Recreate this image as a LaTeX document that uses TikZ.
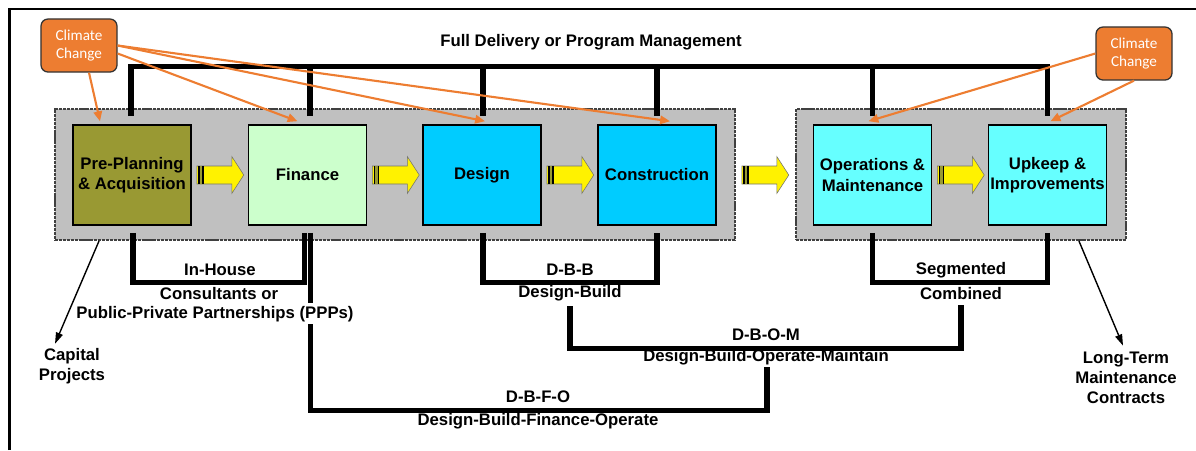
\documentclass[tikz,border=0pt]{standalone}
\usepackage{fontspec}
\setmainfont{Liberation Sans}
\newfontfamily\calibrifont{Carlito}
\usetikzlibrary{arrows.meta,calc}

\definecolor{olivebox}{RGB}{153,153,51}
\definecolor{mintbox}{RGB}{204,255,204}
\definecolor{bluebox}{RGB}{0,204,255}
\definecolor{cyanbox}{RGB}{102,255,255}
\definecolor{panelgray}{RGB}{192,192,192}
\definecolor{climate}{RGB}{237,125,49}

\tikzset{
  stage/.style={draw=black, line width=1.1pt, minimum width=2.95cm, minimum height=2.5cm,
    align=center, inner sep=1pt, font=\fontsize{11.9}{14.4}\selectfont\bfseries},
  panel/.style={fill=panelgray, draw=black!75, line width=1.2pt, dash pattern=on 2.2pt off 0.6pt},
  climatebox/.style={fill=climate, draw=black!80, line width=0.9pt, rounded corners=5pt,
    minimum width=1.9cm, minimum height=1.325cm, text=white, align=center,
    font=\calibrifont\fontsize{10.8}{12.8}\selectfont},
  lbl/.style={font=\fontsize{11.9}{14.4}\selectfont\bfseries, align=center, inner sep=0pt},
  bus/.style={line width=3.6pt},
  impact/.style={climate, line width=1.5pt, -{Triangle[length=7pt,width=6pt]}},
  outcome/.style={line width=1pt, -{Triangle[length=8pt,width=5pt]}},
  pics/blockarrow/.style={code={
    \filldraw[fill=yellow, draw=black!55, line width=0.4pt]
      (0,-9) -- (35,-9) -- (35,-18.5) -- (47,0) -- (35,18.5) -- (35,9) -- (0,9) -- cycle;
    \fill[olivebox] (1.5,-9) rectangle (6.8,9);
    \fill[black] (1.5,-9) rectangle (2.8,9);
    \fill[black] (5.5,-9) rectangle (6.8,9);
  }}
}

\begin{document}
\begin{tikzpicture}[x=0.025cm, y=-0.025cm]
\useasboundingbox (0,0) rectangle (1196,450);
\draw[line width=1.8pt] (9.5,450) -- (9.5,9) -- (1196,9);

% the two phases
\node[panel, minimum width=17cm, minimum height=3.275cm] (panelL) at (395,174.5) {};
\node[panel, minimum width=8.25cm, minimum height=3.275cm] (panelR) at (961,174.5) {};

\node[stage, fill=olivebox] (pre) at (132,175) {Pre-Planning\\\& Acquisition};
\node[stage, fill=mintbox] (fin) at (307.5,175) {Finance};
\node[stage, fill=bluebox] (des) at (482,175) {Design};
\node[stage, fill=bluebox] (con) at (657,175) {Construction};
\node[stage, fill=cyanbox] (ops) at (872.5,175) {Operations \&\\Maintenance};
\node[stage, fill=cyanbox] (upk) at (1047.5,175) {Upkeep \&\\Improvements};

\pic at ($(pre.east)+(5,0)$) {blockarrow};
\pic at ($(fin.east)+(5,0)$) {blockarrow};
\pic at ($(des.east)+(5,0)$) {blockarrow};
\pic at ($(con.east)+(25,0)$) {blockarrow};
\pic at ($(ops.east)+(5,0)$) {blockarrow};

% full delivery
\node[lbl] (title) at (591,42) {Full Delivery or Program Management};
\draw[bus] ($(pre.north)+(-1,-8)$) -- ++(0,-50) -| ($(upk.north)+(0,-8)$);
\draw[bus] ($(fin.north)+(2.5,-8)$) -- ++(0,-50);
\draw[bus] ($(des.north)+(1,-8)$) -- ++(0,-50);
\draw[bus] ($(con.north)+(0,-8)$) -- ++(0,-50);
\draw[bus] ($(ops.north)+(0,-8)$) -- ++(0,-50);

% delivery methods
\node[lbl] (inhouse) at (220,270) {In-House};
\node[lbl] (consult) at (219,294) {Consultants or};
\node[lbl] (ppp) at (215,314) {Public-Private Partnerships (PPPs)};
\node[lbl] (dbb) at (570,270) {D-B-B};
\node[lbl] (db) at (570,293) {Design-Build};
\node[lbl] (segm) at (961,270) {Segmented};
\node[lbl] (comb) at (961,294) {Combined};
\node[lbl] (dbom) at (766,335) {D-B-O-M};
\node[lbl] (dbomfull) at (766,357) {Design-Build-Operate-Maintain};
\node[lbl] (dbfo) at (538,397) {D-B-F-O};
\node[lbl] (dbfofull) at (538,421) {Design-Build-Finance-Operate};

\draw[bus] ($(pre.south)+(1,7)$) -- ++(0,50) -| ($(fin.south)+(-3,7)$);
\draw[bus] ($(des.south)+(1,7)$) -- ++(0,50) -| ($(con.south)+(0,7)$);
\draw[bus] ($(ops.south)+(0,7)$) -- ++(0,50) -| ($(upk.south)+(0,7)$);
\draw[bus] ($(db.south)+(0,5)$) -- ++(0,42) -| ($(comb.south)+(0,5)$);
\draw[bus] ($(fin.south)+(3,7)$) -- ($(ppp.north -| fin.south)+(3,-3)$);
\draw[bus] ($(ppp.south -| fin.south)+(3,2)$) -- ++(0,86) -| ($(dbomfull.south)+(1,2)$);

% outcomes
\node[lbl] (capital) at (72,366) {Capital\\Projects};
\node[lbl] (longterm) at (1126,378) {Long-Term\\Maintenance\\Contracts};
\draw[outcome] ($(panelL.south west)+(45,0)$) -- ($(capital.north)+(-17,-4)$);
\draw[outcome] ($(panelR.south east)+(-48,0)$) -- ($(longterm.north)+(-3,-6)$);

% climate change
\node[climatebox] (ccL) at (79,45.5) {Climate\\Change};
\node[climatebox] (ccR) at (1134,53.5) {Climate\\Change};
\draw[impact] ($(ccL.south)+(10,0)$) -- ($(pre.north)+(-32,-3)$);
\draw[impact] ($(ccL.east)+(0,8)$) -- ($(fin.north)+(-10,-3)$);
\draw[impact] (ccL.east) -- ($(des.north)+(3,-3)$);
\draw[impact] (ccL.east) -- ($(con.north)+(13,-3)$);
\draw[impact] (ccR.west) -- ($(ops.north)+(-4,-3)$);
\draw[impact] (ccR.south) -- ($(upk.north)+(3,-3)$);
\end{tikzpicture}
\end{document}
